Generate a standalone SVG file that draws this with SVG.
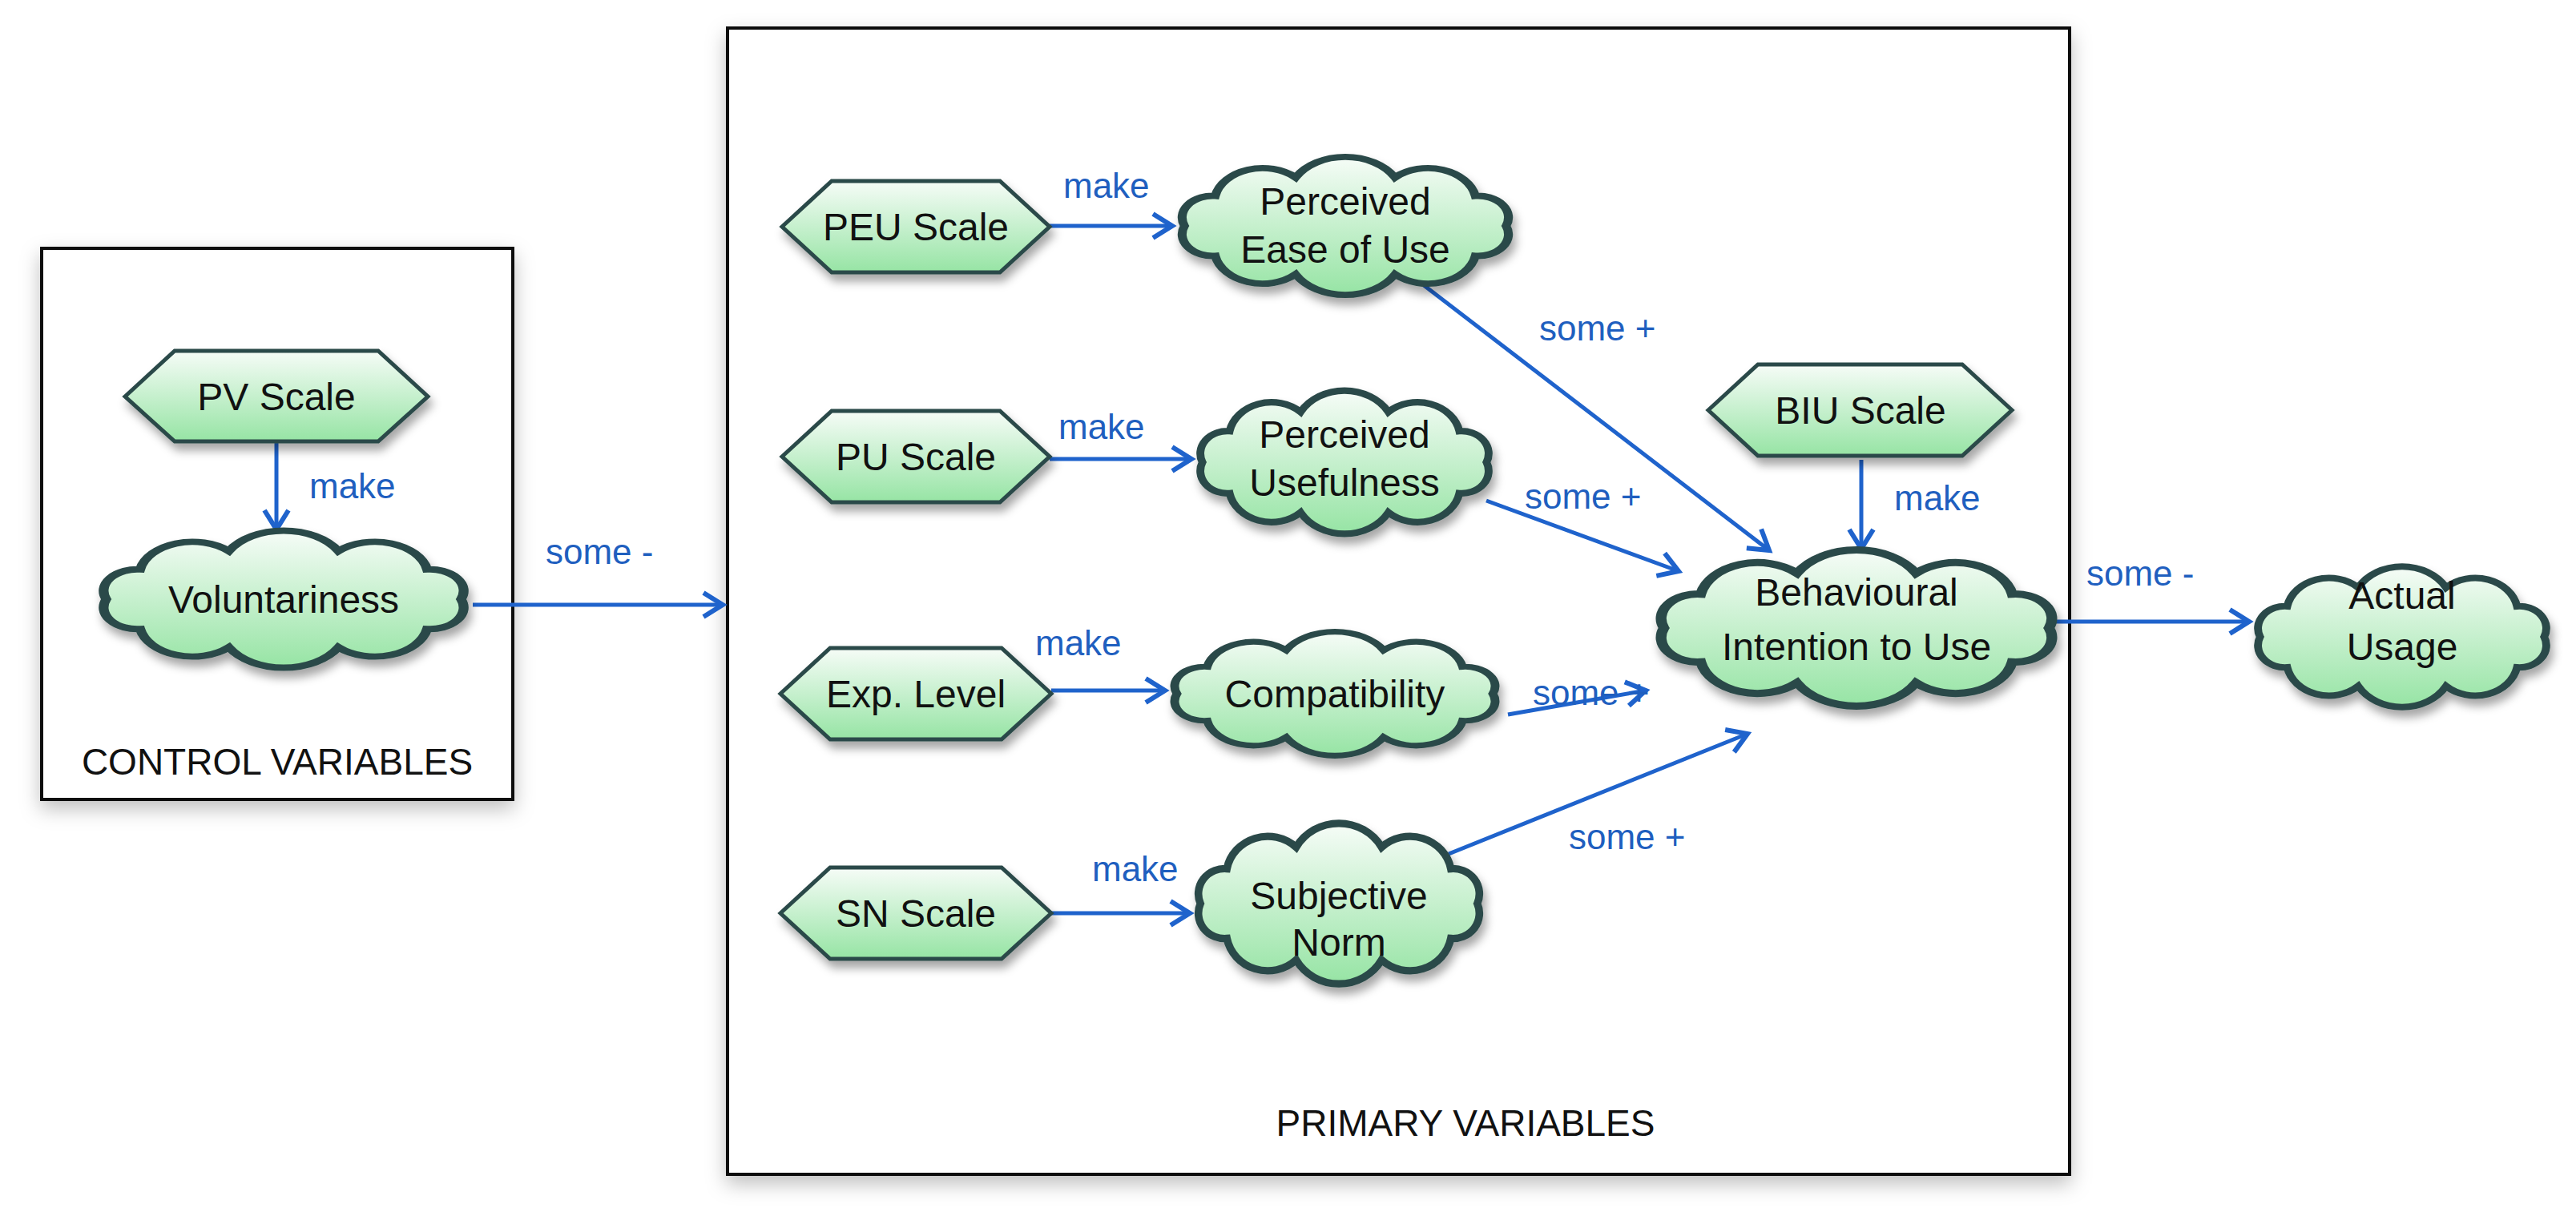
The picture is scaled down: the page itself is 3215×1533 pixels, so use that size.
<svg xmlns="http://www.w3.org/2000/svg" width="3215" height="1533" viewBox="0 0 3215 1533">
<defs>
<linearGradient id="g" x1="0" y1="0" x2="0" y2="1"><stop offset="0" stop-color="#f6fcf7"/><stop offset="1" stop-color="#96e4a4"/></linearGradient>
<filter id="sh" x="-20%" y="-20%" width="140%" height="150%"><feDropShadow dx="4" dy="9" stdDeviation="6" flood-color="#000" flood-opacity="0.35"/></filter>
<filter id="bsh" x="-10%" y="-10%" width="120%" height="120%"><feDropShadow dx="0" dy="10" stdDeviation="12" flood-color="#000" flood-opacity="0.25"/></filter>
<marker id="ar" markerUnits="userSpaceOnUse" markerWidth="40" markerHeight="40" viewBox="-30 -20 34 40" refX="0" refY="0" orient="auto"><path d="M-24,-15 L0,0 L-24,15" fill="none" stroke="#1f63cc" stroke-width="6"/></marker>
<path id="cl" d="M90,0 A17,17 0 0 1 72.8,23.5 A27,27 0 0 1 27.8,38 A32,32 0 0 1 -27.8,38 A27,27 0 0 1 -72.8,23.5 A17,17 0 0 1 -90,0 A17,17 0 0 1 -72.8,-23.5 A27,27 0 0 1 -27.8,-38 A32,32 0 0 1 27.8,-38 A27,27 0 0 1 72.8,-23.5 A17,17 0 0 1 90,0 Z"/>
</defs>
<style>
.box{fill:#fff;stroke:#111;stroke-width:4}
.nd{fill:url(#g);stroke:#2c4a48;stroke-width:5;filter:url(#sh)}
.cl{fill:url(#g);stroke:#2c4a48;stroke-width:5;vector-effect:non-scaling-stroke}
.t{font-family:"Liberation Sans",Arial,sans-serif;font-size:48px;fill:#111;text-anchor:middle}
.bt{font-family:"Liberation Sans",Arial,sans-serif;font-size:46px;fill:#111;text-anchor:middle}
.lb{font-family:"Liberation Sans",Arial,sans-serif;font-size:44px;fill:#1f5fbf}
.c{stroke:#1f63cc;stroke-width:5;fill:none;marker-end:url(#ar)}
</style>
<rect width="3215" height="1533" fill="#fff"/>
<g id="control-box"><rect class="box" x="52" y="310" width="588" height="688" filter="url(#bsh)"/><text class="bt" x="346" y="967">CONTROL VARIABLES</text></g>
<g id="primary-box"><rect class="box" x="908" y="35" width="1675" height="1431" filter="url(#bsh)"/><text class="bt" x="1829" y="1418">PRIMARY VARIABLES</text></g>

<g id="connectors">
<path class="c" d="M345,551 L345,661"/>
<path class="c" d="M590,755 L902,755"/>
<path class="c" d="M1310,282 L1463,282"/>
<path class="c" d="M1310,573 L1487,573"/>
<path class="c" d="M1312,862 L1454,862"/>
<path class="c" d="M1312,1140 L1485,1140"/>
<path class="c" d="M1773,353 L2208,687"/>
<path class="c" d="M1855,625 L2095,713"/>
<path class="c" d="M1882,892 L2054,862"/>
<path class="c" d="M1808,1066 L2181,916"/>
<path class="c" d="M2323,574 L2323,685"/>
<path class="c" d="M2563,776 L2807,776"/>
<text class="lb" x="386" y="622">make</text>
<text class="lb" x="681" y="704">some -</text>
<text class="lb" x="1327" y="247">make</text>
<text class="lb" x="1321" y="548">make</text>
<text class="lb" x="1292" y="818">make</text>
<text class="lb" x="1363" y="1100">make</text>
<text class="lb" x="1921" y="425">some +</text>
<text class="lb" x="1903" y="635">some +</text>
<text class="lb" x="1913" y="880">some +</text>
<text class="lb" x="1958" y="1060">some +</text>
<text class="lb" x="2364" y="637">make</text>
<text class="lb" x="2604" y="731">some -</text>
</g>

<g id="pv-scale"><polygon class="nd" points="156,495 218,438 472,438 534,495 472,551 218,551"/><text class="t" x="345" y="512">PV Scale</text></g>
<g id="voluntariness"><g filter="url(#sh)"><use href="#cl" class="cl" transform="translate(354,748) scale(2.46,1.58)"/></g><text class="t" x="354" y="765">Voluntariness</text></g>

<g id="peu-scale"><polygon class="nd" points="976,283 1038,226 1248,226 1310,283 1248,340 1038,340"/><text class="t" x="1143" y="300">PEU Scale</text></g>
<g id="peou"><g filter="url(#sh)"><use href="#cl" class="cl" transform="translate(1679,282) scale(2.23,1.59)"/></g><text class="t" x="1679" y="268">Perceived</text><text class="t" x="1679" y="328">Ease of Use</text></g>

<g id="pu-scale"><polygon class="nd" points="976,570 1038,513 1248,513 1310,570 1248,627 1038,627"/><text class="t" x="1143" y="587">PU Scale</text></g>
<g id="pu"><g filter="url(#sh)"><use href="#cl" class="cl" transform="translate(1678,577) scale(1.97,1.65)"/></g><text class="t" x="1678" y="559">Perceived</text><text class="t" x="1678" y="619">Usefulness</text></g>

<g id="exp-level"><polygon class="nd" points="974,866 1036,809 1250,809 1312,866 1250,923 1036,923"/><text class="t" x="1143" y="883">Exp. Level</text></g>
<g id="compat"><g filter="url(#sh)"><use href="#cl" class="cl" transform="translate(1666,866) scale(2.19,1.43)"/></g><text class="t" x="1666" y="883">Compatibility</text></g>

<g id="sn-scale"><polygon class="nd" points="974,1140 1036,1083 1250,1083 1312,1140 1250,1197 1036,1197"/><text class="t" x="1143" y="1157">SN Scale</text></g>
<g id="sn"><g filter="url(#sh)"><use href="#cl" class="cl" transform="translate(1671,1128) scale(1.92,1.85)"/></g><text class="t" x="1671" y="1135">Subjective</text><text class="t" x="1671" y="1193">Norm</text></g>

<g id="biu-scale"><polygon class="nd" points="2132,512 2194,455 2449,455 2511,512 2449,569 2194,569"/><text class="t" x="2322" y="529">BIU Scale</text></g>
<g id="bi"><g filter="url(#sh)"><use href="#cl" class="cl" transform="translate(2317,784) scale(2.67,1.80)"/></g><text class="t" x="2317" y="756">Behavioural</text><text class="t" x="2317" y="824">Intention to Use</text></g>

<g id="actual"><g filter="url(#sh)"><use href="#cl" class="cl" transform="translate(2998,795) scale(1.97,1.62)"/></g><text class="t" x="2998" y="760">Actual</text><text class="t" x="2998" y="824">Usage</text></g>
</svg>
